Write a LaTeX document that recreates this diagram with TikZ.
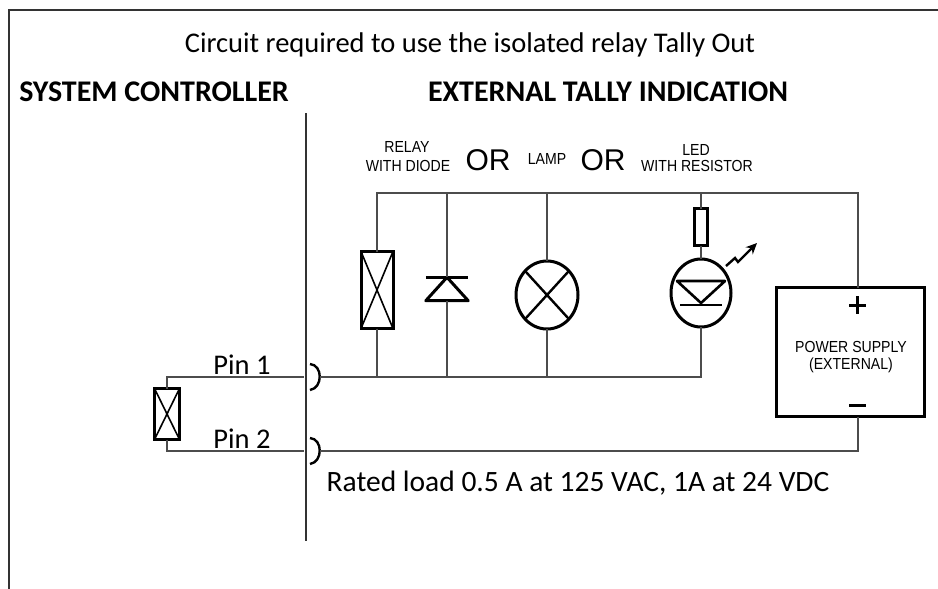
\documentclass[tikz,border=0pt]{standalone}
\usepackage{fontspec}
\usepackage{graphicx}
\setmainfont{Carlito}
\newfontfamily\arialfont{Liberation Sans}
\usetikzlibrary{arrows.meta}
\usetikzlibrary{shapes}

\newcommand{\narrow}[1]{\scalebox{0.88}[1]{#1}}

\tikzset{
  frame/.style={draw=black!80, line width=2pt},
  wire/.style={draw=black!70, line width=1.6pt},
  part/.style={draw=black, line width=3pt, inner sep=0pt, outer sep=0pt},
  coil/.style={part, rectangle, path picture={
      \draw[line width=1.6pt] (path picture bounding box.north west) -- (path picture bounding box.south east)
        (path picture bounding box.south west) -- (path picture bounding box.north east);}},
  bulb/.style={part, ellipse, path picture={
      \draw[line width=2.4pt] (path picture bounding box.north west) -- (path picture bounding box.south east)
        (path picture bounding box.south west) -- (path picture bounding box.north east);}},
  plug/.style={draw=black, line width=2.4pt},
  heading/.style={font=\bfseries\fontsize{30}{34}\selectfont},
  tiny/.style={font=\arialfont\fontsize{16}{16}\selectfont, inner sep=0pt},
  big/.style={font=\arialfont\fontsize{30}{30}\selectfont, inner sep=0pt}
}

\begin{document}
\begin{tikzpicture}[x=1pt, y=-1pt, font=\fontsize{28.5}{32}\selectfont]

    \useasboundingbox (0,0) rectangle (938,589);

    % Declare the frame and divider
    \draw[frame] (9,589) -- (9,10) -- (938,10);
    \draw[frame] (306,113) -- (306,541);

    % Declare the headings
    \node (title) at (470,45) {Circuit required to use the isolated relay Tally Out};
    \node[heading] (sysctl) at (154,92) {SYSTEM CONTROLLER};
    \node[heading] (extind) at (608,92) {EXTERNAL TALLY INDICATION};

    % Declare the part labels
    \node[tiny] (relaylbl) at (407,147) {\narrow{RELAY}};
    \node[tiny] (diodelbl) at (408,166) {\narrow{WITH DIODE}};
    \node[big] (or1) at (488,160) {OR};
    \node[tiny] (lamplbl) at (547,159) {\narrow{LAMP}};
    \node[big] (or2) at (603,160) {OR};
    \node[tiny] (ledlbl) at (696,150) {\narrow{LED}};
    \node[tiny] (reslbl) at (697,166) {\narrow{WITH RESISTOR}};

    % Declare the parts
    \node[coil, minimum width=32, minimum height=77] (relay) at (377,290) {};
    \node[inner sep=0pt, minimum width=42, minimum height=23] (diode) at (447,289) {};
    \draw[part, line join=round] (diode.south west) -- (diode.south east) -- (diode.north) -- cycle;
    \draw[part] (diode.north west) -- (diode.north east);
    \node[bulb, minimum width=62, minimum height=68] (lamp) at (547,295) {};
    \node[part, line width=2.4pt, rectangle, minimum width=13, minimum height=37] (res) at (701,227) {};
    \node[part, ellipse, minimum width=60, minimum height=68] (led) at (701,293) {};
    \draw[part, line width=2.6pt, line join=round] (677,281) -- (725,281) -- (701,303) -- cycle;
    \draw[part, line width=2.6pt] (680,305) -- (722,305);
    \draw[line width=2.4pt, -{Stealth[length=11pt, width=10pt]}] (726,266) -- (735,258) -- (738,262) -- (757,243);

    % Declare the power supply
    \node[part, rectangle, minimum width=148, minimum height=129] (psu) at (850,352) {};
    \node[tiny, align=center] (psulbl) at (851,357) {\narrow{POWER SUPPLY}\\[1pt]\narrow{(EXTERNAL)}};
    \draw[line width=3pt] (849,305) -- (866,305) (857.5,296) -- (857.5,314);
    \draw[line width=3pt] (849,405) -- (866,405);

    % Declare the controller relay
    \node[coil, minimum width=25, minimum height=51] (coilL) at (167,414) {};
    \node (pin1lbl) at (242,365) {Pin 1};
    \node (pin2lbl) at (242,439) {Pin 2};

    % Declare the junctions
    \coordinate (top1) at (377,193);
    \coordinate (top2) at (858,193);
    \coordinate (sock1) at (304,377);
    \coordinate (sock2) at (304,451);
    \coordinate (pin1) at (320,377);
    \coordinate (pin2) at (320,451);
    \coordinate (bot1) at (701,377);
    \coordinate (bot2) at (858,451);

    % Declare the plugs
    \foreach \y in {377,451}
      \draw[plug] (310,\y-13) .. controls (323,\y-12) and (323,\y+11) .. (310,\y+13);

    % Declare the wires
    \draw[wire] (relay.north) -- (relay.north |- top1) -- (top2) -- (top2 |- psu.north);
    \draw[wire] (diode.north) -- (diode.north |- top1);
    \draw[wire] (lamp.north) -- (lamp.north |- top1);
    \draw[wire] (res.north) -- (res.north |- top1);
    \draw[wire] (res.south) -- (led.north);
    \draw[wire] (relay.south) -- (relay.south |- pin1);
    \draw[wire] (diode.south) -- (diode.south |- pin1);
    \draw[wire] (lamp.south) -- (lamp.south |- pin1);
    \draw[wire] (pin1) -- (bot1) -- (led.south);
    \draw[wire] (pin2) -- (bot2) -- (bot2 |- psu.south);
    \draw[wire] (coilL.north) |- (sock1);
    \draw[wire] (coilL.south) |- (sock2);

    % Declare the rating
    \node[font=\fontsize{29.5}{33}\selectfont] (rating) at (578,483) {Rated load 0.5 A at 125 VAC, 1A at 24 VDC};

\end{tikzpicture}
\end{document}
